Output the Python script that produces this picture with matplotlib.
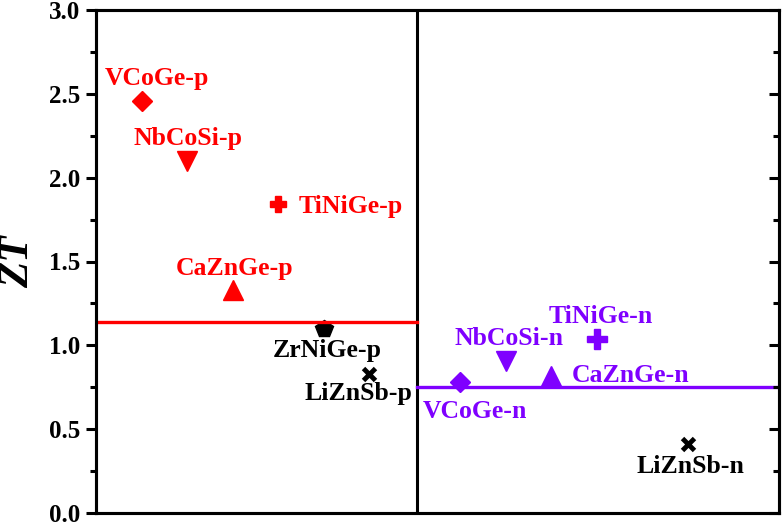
import matplotlib
matplotlib.use("Agg")
import matplotlib.pyplot as plt
from matplotlib.ticker import MultipleLocator

plt.rcParams['font.family'] = ['Liberation Serif', 'DejaVu Serif']
plt.rcParams['font.weight'] = 'bold'

RED = '#FF0000'
PURPLE = '#7F00FF'

# p-type materials
p_names = ['VCoGe-p', 'NbCoSi-p', 'CaZnGe-p', 'TiNiGe-p', 'ZrNiGe-p', 'LiZnSb-p']
p_x = [1, 2, 3, 4, 5, 6]
p_zt = [2.46, 2.10, 1.33, 1.84, 1.10, 0.83]
p_markers = ['D', 'v', '^', 'P', 'p', 'x']
p_colors = [RED, RED, RED, RED, 'black', 'black']
p_label_x = [1.34, 2.02, 3.05, 4.44, 5.07, 5.76]
p_label_y = [2.552, 2.194, 1.419, 1.789, 0.930, 0.674]
p_label_ha = ['center', 'center', 'center', 'left', 'center', 'center']
p_mean = 1.14

# n-type materials
n_names = ['VCoGe-n', 'NbCoSi-n', 'CaZnGe-n', 'TiNiGe-n', 'LiZnSb-n']
n_x = [8, 9, 10, 11, 13]
n_zt = [0.78, 0.905, 0.82, 1.04, 0.41]
n_markers = ['D', 'v', '^', 'P', 'x']
n_colors = [PURPLE, PURPLE, PURPLE, PURPLE, 'black']
n_label_x = [8.33, 9.08, 10.44, 11.08, 13.05]
n_label_y = [0.566, 1.002, 0.781, 1.133, 0.238]
n_label_ha = ['center', 'center', 'left', 'center', 'center']
n_mean = 0.75

divider_x = 7.05

marker_sizes = {'D': 10, 'v': 14, '^': 14, 'P': 12, 'p': 13, 'x': 9}

fig = plt.figure(figsize=(7.83, 5.29), dpi=100)
ax = fig.add_axes([96/783, 1-513/529, (779-96)/783, (513-10)/529])
ax.set_xlim(0, 15)
ax.set_ylim(0, 3.0)

# divider
ax.axvline(divider_x, color='black', lw=2.2, zorder=3)
# mean lines
ax.plot([0, divider_x], [p_mean, p_mean], color=RED, lw=2.4, zorder=4)
ax.plot([divider_x, 15], [n_mean, n_mean], color=PURPLE, lw=2.4, zorder=4)

def draw(xs, ys, markers, colors, names, lx, ly, has):
    for x, y, m, c, nm, tx, ty, ha in zip(xs, ys, markers, colors, names, lx, ly, has):
        ms = marker_sizes[m]
        if nm == 'TiNiGe-n':
            ms = 15
        if m == 'x':
            ax.plot([x], [y], marker=m, color=c, ms=ms, mew=3.5, ls='none', zorder=3)
        else:
            ax.plot([x], [y], marker=m, color=c, ms=ms, mec=c, ls='none', zorder=3)
        ax.text(tx, ty, nm, color=c, fontsize=18.5, fontweight='bold', ha=ha, va='baseline', zorder=5)

draw(p_x, p_zt, p_markers, p_colors, p_names, p_label_x, p_label_y, p_label_ha)
draw(n_x, n_zt, n_markers, n_colors, n_names, n_label_x, n_label_y, n_label_ha)

for s in ax.spines.values():
    s.set_linewidth(2.2)

ax.set_xticks([])
ax.yaxis.set_major_locator(MultipleLocator(0.5))
ax.yaxis.set_minor_locator(MultipleLocator(0.25))
ax.yaxis.set_major_formatter(plt.FormatStrFormatter('%.1f'))
ax.tick_params(axis='y', which='major', direction='out', length=7.5, width=2.2,
               labelsize=18, pad=4, left=True, right=False)
ax.tick_params(axis='y', which='minor', direction='out', length=4.5, width=2.2,
               left=True, right=False)
for lab in ax.get_yticklabels():
    lab.set_fontweight('bold')

ax2 = ax.twinx()
ax2.set_ylim(0, 3.0)
ax2.yaxis.set_major_locator(MultipleLocator(0.5))
ax2.yaxis.set_minor_locator(MultipleLocator(0.25))
ax2.tick_params(axis='y', which='major', direction='in', length=7.5, width=2.2, labelright=False)
ax2.tick_params(axis='y', which='minor', direction='in', length=4.5, width=2.2, labelright=False)
for s in ax2.spines.values():
    s.set_linewidth(2.2)

ax.set_ylabel('ZT', fontsize=31, fontweight='bold', fontstyle='italic', va='center')
ax.yaxis.set_label_coords(-(96 - 18) / 683, 0.5)

fig.savefig('out.png', dpi=100)
